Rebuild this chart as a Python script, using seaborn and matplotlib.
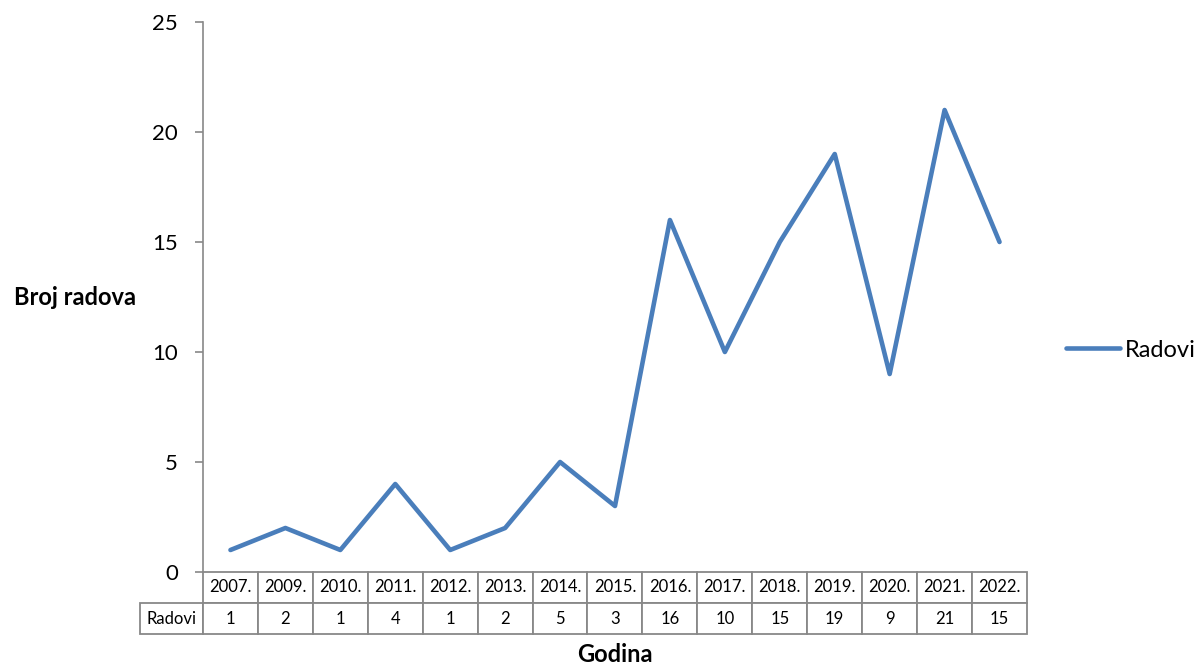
import numpy as np
import pandas as pd
import matplotlib
matplotlib.use('Agg')
import matplotlib.pyplot as plt
import seaborn as sns
from matplotlib.table import Table

# Podaci
godine = ['2007.', '2009.', '2010.', '2011.', '2012.', '2013.', '2014.', '2015.',
          '2016.', '2017.', '2018.', '2019.', '2020.', '2021.', '2022.']
radovi = [1, 2, 1, 4, 1, 2, 5, 3, 16, 10, 15, 19, 9, 21, 15]
y_ticks = [0, 5, 10, 15, 20, 25]

df = pd.DataFrame({'Godina': godine, 'Radovi': radovi})
df['poz'] = np.arange(len(df))

sns.set_style('white')
plt.rcParams['font.family'] = ['Lato', 'DejaVu Sans']
plt.rcParams['text.color'] = 'black'
plt.rcParams['axes.labelcolor'] = 'black'
plt.rcParams['ytick.color'] = 'black'

W, H = 1200, 665
fig = plt.figure(figsize=(12, 6.65), dpi=100)
ax = fig.add_axes([203 / W, 1 - 572 / H, (1027 - 203) / W, 550 / H])

sns.lineplot(data=df, x='poz', y='Radovi', ax=ax, color='#4A7EBB', linewidth=3.3,
             label='Radovi')

ax.set_xlim(-0.5, len(godine) - 0.5)
ax.set_ylim(0, 25)
ax.set_yticks(y_ticks)
ax.set_xticks([])
ax.tick_params(axis='y', labelsize=16, length=6, width=1.2, color='#888888',
               labelcolor='black', direction='out', left=True, pad=12)
for s in ['top', 'right', 'bottom']:
    ax.spines[s].set_visible(False)
ax.spines['left'].set_color('#888888')
ax.spines['left'].set_linewidth(1.2)

ax.set_ylabel('Broj radova', fontsize=17, fontweight='bold', rotation=0,
              ha='center', va='center')
ax.yaxis.set_label_coords((75 - 203) / 824, 0.5)
ax.set_xlabel('Godina', fontsize=17, fontweight='bold', va='center')
ax.xaxis.set_label_coords(0.5, -(654 - 572) / 550)

# Tablica podataka ispod grafa (stupac 0 = oznaka reda)
x0 = (139.5 - 203) / 824
tbl = Table(ax, bbox=[x0, -(634 - 572) / 550, 1 - x0, (634 - 572) / 550])
tbl.auto_set_font_size(False)


def dodaj(i, j, txt, w):
    c = tbl.add_cell(i, j, width=w, height=1, text=txt, loc='center')
    c.set_edgecolor('#888888')
    c.set_linewidth(1.3)
    c.get_text().set_fontsize(12)
    c.get_text().set_color('black')
    c.PAD = 0.02


dodaj(1, 0, 'Radovi', 63.5 / 55)
for j, (g, r) in enumerate(zip(godine, radovi)):
    dodaj(0, j + 1, g, 1)
    dodaj(1, j + 1, str(r), 1)
ax.add_table(tbl)

ax.legend(loc='center left', bbox_to_anchor=((1066 - 203) / 824, (572 - 350) / 550),
          frameon=False, fontsize=17, handlelength=2.3, handletextpad=0.2,
          borderaxespad=0, borderpad=0)

fig.savefig('out.png', dpi=100)
